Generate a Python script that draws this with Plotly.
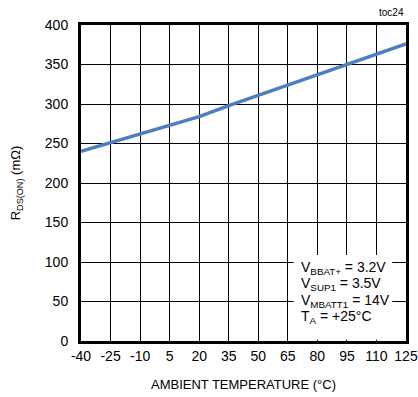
import plotly.graph_objects as go

temps = [-40, -25, -10, 5, 20, 35, 50, 65, 80, 95, 110, 125]
rdson = [240, 251, 262, 273, 284, 298, 311, 324, 337, 350, 363, 376]
x_ticks = [-40, -25, -10, 5, 20, 35, 50, 65, 80, 95, 110, 125]
y_ticks = [0, 50, 100, 150, 200, 250, 300, 350, 400]

FONT = "Liberation Sans, Arial, sans-serif"

fig = go.Figure()
fig.add_trace(go.Scatter(x=temps, y=rdson, mode="lines",
                         line=dict(color="#4a7fc1", width=3.5), showlegend=False))

fig.update_layout(
    width=418, height=397,
    margin=dict(l=81, r=12, t=25, b=56),
    paper_bgcolor="white", plot_bgcolor="white",
    font=dict(family=FONT, size=14, color="black"),
    xaxis=dict(range=[-40, 125], tickvals=x_ticks, ticktext=[str(v) for v in x_ticks],
               showgrid=True, gridcolor="black", gridwidth=1, automargin=False,
               showline=True, linecolor="black", linewidth=3, mirror=True,
               ticks="", zeroline=False, tickfont=dict(size=14),
               title=dict(text="AMBIENT TEMPERATURE (°C)", font=dict(size=13), standoff=18)),
    yaxis=dict(range=[0, 400], tickvals=y_ticks, automargin=False,
               showgrid=True, gridcolor="black", gridwidth=1,
               showline=True, linecolor="black", linewidth=3, mirror=True,
               ticks="", zeroline=False, tickfont=dict(size=14),
               ticklabelstandoff=7,
               title=dict(text="R<sub>DS(ON)</sub> (mΩ)", font=dict(size=13), standoff=22)),
)

fig.add_shape(type="rect", xref="x", yref="y", x0=68, x1=118, y0=1.5, y1=109,
              fillcolor="white", line=dict(width=0), layer="above")

lines = ["V<sub>BBAT+</sub> = 3.2V", "V<sub>SUP1</sub> = 3.5V",
         "V<sub>MBATT1</sub> = 14V", "T<sub>A</sub> = +25°C"]
for i, t in enumerate(lines):
    fig.add_annotation(xref="paper", yref="paper", x=(299 - 81) / 325, y=(341 - 268 - i * 16.3) / 316,
                       text=t, showarrow=False, xanchor="left", yanchor="middle",
                       font=dict(size=14))

fig.add_annotation(xref="paper", yref="paper", x=1.0, y=(341 - 12) / 316, text="toc24",
                   showarrow=False, xanchor="right", yanchor="middle", font=dict(size=10))

fig.write_html("out.html", post_script="document.body.style.margin='0px';",
               config={"displayModeBar": False})
